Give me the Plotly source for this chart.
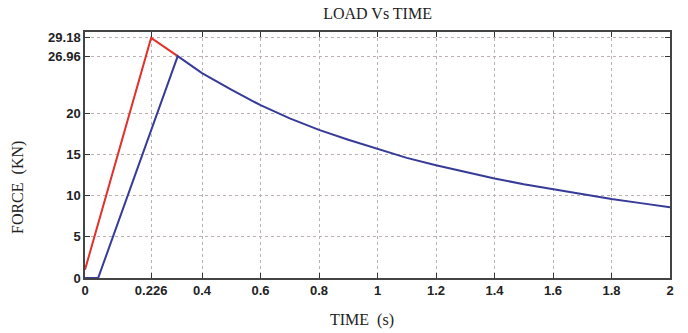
import plotly.graph_objects as go

# Data
red_t = [0.0, 0.226, 0.317]
red_f = [1.0, 29.18, 26.96]

blue_t = [0.0, 0.045, 0.317, 0.4, 0.5, 0.6, 0.7, 0.8, 0.9,
          1.0, 1.1, 1.2, 1.3, 1.4, 1.5, 1.6, 1.7, 1.8, 1.9, 2.0]
blue_f = [0.0, 0.0, 26.96, 24.9, 22.9, 21.0, 19.4, 18.0, 16.8,
          15.7, 14.6, 13.7, 12.9, 12.1, 11.4, 10.8, 10.2, 9.6, 9.1, 8.6]

x_ticks = [0, 0.226, 0.4, 0.6, 0.8, 1, 1.2, 1.4, 1.6, 1.8, 2]
x_tick_labels = ["0", "0.226", "0.4", "0.6", "0.8", "1", "1.2", "1.4", "1.6", "1.8", "2"]
y_ticks = [0, 5, 10, 15, 20, 26.96, 29.18]
y_tick_labels = ["0", "5", "10", "15", "20", "26.96", "29.18"]

W, H = 688, 333
ML, MR, MT, MB = 85, 18, 32, 55

fig = go.Figure()
fig.add_trace(go.Scatter(x=red_t, y=red_f, mode="lines",
                         line=dict(color="#e2312b", width=2), showlegend=False))
fig.add_trace(go.Scatter(x=blue_t, y=blue_f, mode="lines",
                         line=dict(color="#363a98", width=2), showlegend=False))

tickfont = dict(family="Liberation Sans, Arial, sans-serif", size=13, color="#222", weight="bold")
serif = "Liberation Serif, Times New Roman, serif"

pw = W - ML - MR
ph = H - MT - MB

fig.update_layout(
    width=W, height=H,
    margin=dict(l=ML, r=MR, t=MT, b=MB),
    paper_bgcolor="white", plot_bgcolor="white",
    title=dict(text="LOAD Vs TIME", x=0.5488, xanchor="center", y=0.96, yanchor="middle",
               font=dict(family=serif, size=16, color="#222")),
    annotations=[
        dict(text="TIME  (s)", xref="paper", yref="paper",
             x=(362 - ML) / pw, y=-(320 - (H - MB)) / ph,
             xanchor="center", yanchor="middle", showarrow=False,
             font=dict(family=serif, size=16, color="#222")),
        dict(text="FORCE  (KN)", xref="paper", yref="paper",
             x=-(ML - 18) / pw, y=((H - MB) - 188) / ph, textangle=-90,
             xanchor="center", yanchor="middle", showarrow=False,
             font=dict(family=serif, size=16, color="#222")),
    ],
)
fig.update_xaxes(
    range=[0, 2], tickmode="array", tickvals=x_ticks, ticktext=x_tick_labels,
    tickfont=tickfont, ticks="inside", ticklen=5, tickcolor="#333",
    showline=True, linecolor="#444", linewidth=1.5, mirror="ticks",
    showgrid=True, gridcolor="#bdb0b0", griddash="dot", gridwidth=1,
    zeroline=False, automargin=False,
)
fig.update_yaxes(
    range=[0, 29.9], tickmode="array", tickvals=y_ticks, ticktext=y_tick_labels,
    tickfont=tickfont, ticks="inside", ticklen=5, tickcolor="#333",
    showline=True, linecolor="#444", linewidth=1.5, mirror="ticks",
    showgrid=True, gridcolor="#bdb0b0", griddash="dot", gridwidth=1,
    zeroline=False, automargin=False,
)

fig.write_html("out.html", config={"displayModeBar": False},
               post_script="document.body.style.margin='0';document.body.style.overflow='hidden';")
